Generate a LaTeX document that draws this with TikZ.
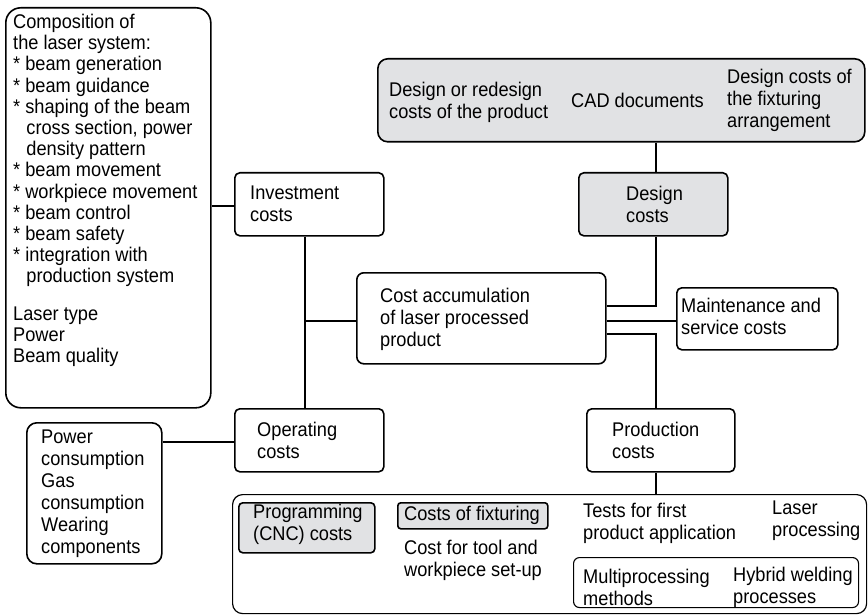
\documentclass[tikz,border=0pt]{standalone}
\usepackage{fontspec}
\setmainfont[FakeStretch=0.92]{Liberation Sans}
\usetikzlibrary{calc}
\definecolor{boxgray}{RGB}{225,226,228}
\begin{document}
\begin{tikzpicture}[x=1pt,y=1pt,
  bx/.style={draw, line width=1.6pt, rounded corners=5pt, inner sep=0pt, anchor=north west},
  gbx/.style={bx, fill=boxgray},
  txt/.style={align=left, inner sep=0pt, anchor=west, font=\fontsize{19.8}{22}\selectfont},
  con/.style={line width=1.5pt}]
\useasboundingbox (0,0) rectangle (868,-615);

% ---------- boxes ----------
\node[bx, rounded corners=15pt, minimum width=205pt, minimum height=400pt] (comp) at (5,-7) {};
\node[gbx, rounded corners=10pt, minimum width=487pt, minimum height=83pt] (top) at (377,-58) {};
\node[bx, minimum width=149pt, minimum height=63pt] (inv) at (234,-172) {};
\node[gbx, minimum width=149pt, minimum height=63pt] (des) at (578,-172) {};
\node[bx, rounded corners=7pt, minimum width=249pt, minimum height=91pt] (acc) at (356,-272) {};
\node[bx, minimum width=161pt, minimum height=62pt] (mnt) at (676,-287) {};
\node[bx, minimum width=149pt, minimum height=63pt] (op) at (234,-408) {};
\node[bx, minimum width=148pt, minimum height=63pt] (prod) at (586,-408) {};
\node[bx, rounded corners=10pt, minimum width=135pt, minimum height=141pt] (pow) at (26,-422) {};
\node[bx, line width=1.2pt, rounded corners=10pt, minimum width=634pt, minimum height=119pt] (bot) at (232,-494) {};
\node[gbx, rounded corners=4pt, minimum width=136pt, minimum height=50pt] (prog) at (238,-502) {};
\node[gbx, rounded corners=3pt, minimum width=150pt, minimum height=26pt] (fix) at (397,-502) {};
\node[bx, line width=1.1pt, rounded corners=6pt, minimum width=285pt, minimum height=50pt] (multi) at (573,-557) {};

% ---------- texts ----------
\node[txt, anchor=north west, font=\fontsize{19.8}{21.2}\selectfont] (compt) at (13,-14) {Composition of\\
the laser system:\\
* beam generation\\
* beam guidance\\
* shaping of the beam\\
\hspace*{0.667em}cross section, power\\
\hspace*{0.667em}density pattern\\
* beam movement\\
* workpiece movement\\
* beam control\\
* beam safety\\
* integration with\\
\hspace*{0.667em}production system\\[16pt]
Laser type\\
Power\\
Beam quality};
\node[txt] (topa) at (389,-102.5) {Design or redesign\\costs of the product};
\node[txt] (topb) at (571,-100) {CAD documents};
\node[txt] (topc) at (727,-100) {Design costs of\\the fixturing\\arrangement};
\node[txt] (invt) at (250,-204) {Investment\\costs};
\node[txt] (dest) at (626,-204) {Design\\costs};
\node[txt] (acct) at (380,-319) {Cost accumulation\\of laser processed\\product};
\node[txt] (mntt) at (681,-316) {Maintenance and\\service costs};
\node[txt] (opt) at (257,-440) {Operating\\costs};
\node[txt] (prodt) at (612,-440) {Production\\costs};
\node[txt] (powt) at (41,-494) {Power\\consumption\\Gas\\consumption\\Wearing\\components};
\node[txt] (progt) at (253,-524) {Programming\\(CNC) costs};
\node[txt] (fixt) at (404,-515) {Costs of fixturing};
\node[txt] (toolt) at (404,-560) {Cost for tool and\\workpiece set-up};
\node[txt] (testt) at (583,-523) {Tests for first\\product application};
\node[txt] (lasert) at (772,-521) {Laser\\processing};
\node[txt] (multit) at (583,-587) {Multiprocessing\\methods};
\node[txt] (hybt) at (733,-587) {Hybrid welding\\processes};

% ---------- connectors ----------
\coordinate (v1) at (305,0);
\coordinate (v2) at (656,0);
\coordinate (h1) at (0,-306);
\coordinate (h2) at (0,-321);
\coordinate (h3) at (0,-334);
\coordinate (h4) at (0,-206);
\coordinate (h5) at (0,-442);
\draw[con] (inv.west |- h4) -- (comp.east |- h4);
\draw[con] (inv.south -| v1) -- (op.north -| v1);
\draw[con] (v1 |- h2) -- (acc.west |- h2);
\draw[con] (op.west |- h5) -- (pow.east |- h5);
\draw[con] (top.south -| v2) -- (des.north -| v2);
\draw[con] (des.south -| v2) -- (v2 |- h1) -- (acc.east |- h1);
\draw[con] (acc.east |- h2) -- (mnt.west |- h2);
\draw[con] (acc.east |- h3) -- (v2 |- h3) -- (prod.north -| v2);
\draw[con] (prod.south -| v2) -- (bot.north -| v2);
\end{tikzpicture}
\end{document}
